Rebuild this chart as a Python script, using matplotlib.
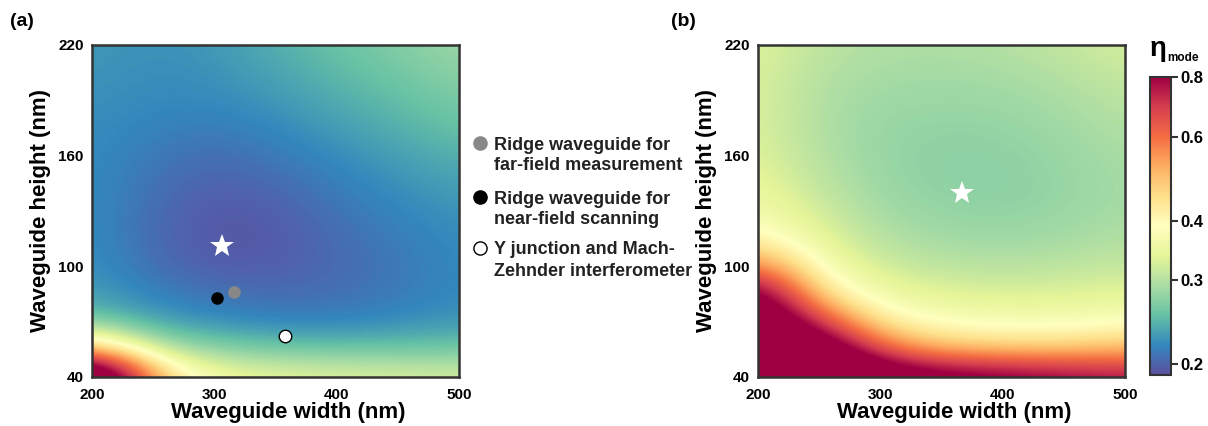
import numpy as np
import matplotlib
matplotlib.use("Agg")
import matplotlib.pyplot as plt
from matplotlib.colors import LogNorm
from matplotlib.lines import Line2D
from matplotlib.ticker import FixedLocator, FixedFormatter, NullLocator

plt.rcParams['font.family'] = ['Liberation Sans', 'DejaVu Sans']
plt.rcParams['font.weight'] = 'bold'

# grid nodes (nm)
widths = [200, 250, 300, 350, 400, 450, 500]
heights = [40, 55, 70, 85, 100, 115, 130, 145, 160, 175, 190, 205, 220]

# eta_mode, panel (a); one list per width column, bottom (40 nm) to top (220 nm)
eta_a_cols = [
    [1.2, 0.47, 0.26, 0.233, 0.225, 0.223, 0.222, 0.222, 0.222, 0.223, 0.225, 0.227, 0.228],
    [0.5, 0.3, 0.234, 0.216, 0.207, 0.204, 0.205, 0.208, 0.212, 0.217, 0.221, 0.223, 0.225],
    [0.36, 0.27, 0.223, 0.208, 0.197, 0.194, 0.195, 0.199, 0.205, 0.213, 0.221, 0.225, 0.228],
    [0.345, 0.258, 0.218, 0.205, 0.198, 0.196, 0.198, 0.204, 0.212, 0.22, 0.228, 0.235, 0.242],
    [0.335, 0.256, 0.217, 0.207, 0.204, 0.205, 0.209, 0.215, 0.222, 0.231, 0.24, 0.248, 0.256],
    [0.33, 0.257, 0.222, 0.213, 0.211, 0.214, 0.219, 0.225, 0.233, 0.242, 0.251, 0.26, 0.269],
    [0.325, 0.259, 0.228, 0.221, 0.221, 0.223, 0.227, 0.234, 0.243, 0.255, 0.265, 0.275, 0.285],
]

# eta_mode, panel (b)
eta_b_cols = [
    [1.5, 1.25, 1.05, 0.9, 0.57, 0.41, 0.365, 0.345, 0.335, 0.33, 0.33, 0.33, 0.333],
    [1.3, 1.0, 0.68, 0.43, 0.37, 0.34, 0.32, 0.307, 0.3, 0.296, 0.296, 0.3, 0.307],
    [1.0, 0.62, 0.41, 0.355, 0.32, 0.3, 0.288, 0.282, 0.28, 0.281, 0.285, 0.29, 0.296],
    [0.9, 0.49, 0.38, 0.335, 0.305, 0.288, 0.279, 0.276, 0.276, 0.278, 0.283, 0.289, 0.295],
    [0.86, 0.47, 0.37, 0.33, 0.302, 0.285, 0.277, 0.275, 0.276, 0.279, 0.284, 0.291, 0.299],
    [0.82, 0.47, 0.37, 0.332, 0.305, 0.289, 0.282, 0.28, 0.282, 0.286, 0.292, 0.3, 0.31],
    [0.78, 0.5, 0.38, 0.338, 0.313, 0.298, 0.291, 0.29, 0.293, 0.298, 0.305, 0.314, 0.325],
]

# device points (width, height)
star_a = (306, 111)
star_b = (367, 140)
far_field = (316, 86)
near_field = (302, 83)
y_junction = (358, 62)

legend_labels = [("Ridge waveguide for", "far-field measurement"),
                 ("Ridge waveguide for", "near-field scanning"),
                 ("Y junction and Mach-", "Zehnder interferometer")]

cb_ticks = [0.2, 0.3, 0.4, 0.6, 0.8]
x_ticks = [200, 300, 400, 500]
y_ticks = [40, 100, 160, 220]

norm = LogNorm(vmin=0.19, vmax=0.8)
cmap = plt.get_cmap('Spectral_r')
spine_c = '#333333'
W, H = 1208, 426

fig = plt.figure(figsize=(W / 100, H / 100), dpi=100)
ax_a = fig.add_axes([92/W, 49/H, 367/W, 332/H])
ax_b = fig.add_axes([758/W, 49/H, 367/W, 332/H])
cax = fig.add_axes([1150/W, 51/H, 21/W, 298/H])

dw = (widths[1] - widths[0]) / 2
dh = (heights[1] - heights[0]) / 2
ext = [widths[0] - dw, widths[-1] + dw, heights[0] - dh, heights[-1] + dh]

for ax, cols in [(ax_a, eta_a_cols), (ax_b, eta_b_cols)]:
    z = np.array(cols).T
    im = ax.imshow(z, origin='lower', extent=ext, aspect='auto', cmap=cmap,
                   norm=norm, interpolation='bicubic', interpolation_stage='data')
    ax.set_xlim(200, 500)
    ax.set_ylim(40, 220)
    ax.set_xticks(x_ticks)
    ax.set_yticks(y_ticks)
    ax.tick_params(length=0, labelsize=11)
    ax.tick_params(axis='x', pad=8)
    ax.tick_params(axis='y', pad=6)
    for s in ax.spines.values():
        s.set_color(spine_c)
        s.set_linewidth(1.8)
    ax.set_xlabel("Waveguide width (nm)", fontsize=16, fontweight='bold', labelpad=1)
    ax.xaxis.set_label_coords(0.536, -0.075)
    ax.set_ylabel("Waveguide height (nm)", fontsize=16, fontweight='bold', labelpad=5)

ax_a.plot(*star_a, marker='*', color='white', markersize=18, markeredgewidth=0)
ax_b.plot(*star_b, marker='*', color='white', markersize=18, markeredgewidth=0)
ax_a.plot(*far_field, marker='o', color='#888888', markersize=9, markeredgewidth=0)
ax_a.plot(*near_field, marker='o', color='black', markersize=9, markeredgewidth=0)
ax_a.plot(*y_junction, marker='o', markerfacecolor='white', markeredgecolor='black',
          markersize=9, markeredgewidth=1)

# legend drawn by hand next to panel (a)
leg_styles = [dict(markerfacecolor='#888888', markeredgecolor='#888888'),
              dict(markerfacecolor='black', markeredgecolor='black'),
              dict(markerfacecolor='white', markeredgecolor='black')]
leg_y = [143, 197, 248]
for (l1, l2), st, yy in zip(legend_labels, leg_styles, leg_y):
    fig.add_artist(Line2D([480/W], [1 - yy/H], marker='o', markersize=9.5, markeredgewidth=1,
                          transform=fig.transFigure, linestyle='none', **st))
    fig.text(494/W, 1 - yy/H, l1, fontsize=13, fontweight='bold', va='center_baseline',
             ha='left', color='#222222')
    fig.text(494/W, 1 - (yy + 21)/H, l2, fontsize=13, fontweight='bold', va='center_baseline',
             ha='left', color='#222222')

cb = fig.colorbar(im, cax=cax)
cb.outline.set_edgecolor(spine_c)
cb.outline.set_linewidth(1.5)
cax.yaxis.set_major_locator(FixedLocator(cb_ticks))
cax.yaxis.set_major_formatter(FixedFormatter([str(t) for t in cb_ticks]))
cax.yaxis.set_minor_locator(NullLocator())
cax.tick_params(length=5, width=1.5, labelsize=12, pad=2, color=spine_c)

fig.text(1158/W, 1 - 49/H, "η", fontsize=20, fontweight='bold', ha='center', va='center')
fig.text(1167/W, 1 - 58/H, "mode", fontsize=8.5, fontweight='bold', ha='left', va='center')

fig.text(10/W, 1 - 21/H, "(a)", fontsize=14, fontweight='bold', va='center')
fig.text(671/W, 1 - 21/H, "(b)", fontsize=14, fontweight='bold', va='center')

fig.savefig("out.png", dpi=100)
